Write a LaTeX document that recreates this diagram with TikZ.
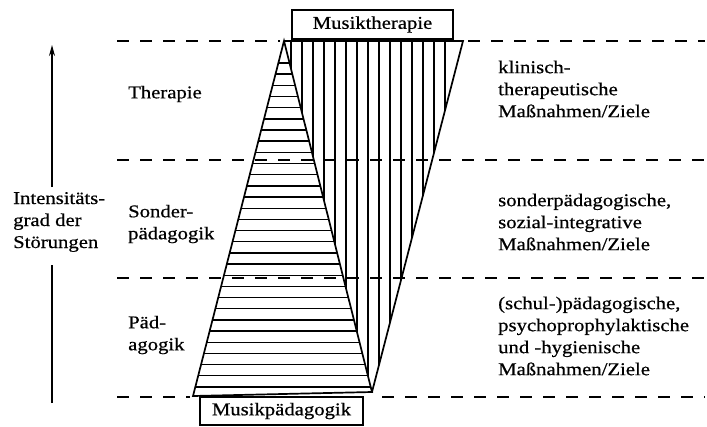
\documentclass[tikz,border=0pt]{standalone}
\usepackage{fontspec}
\setmainfont[FakeStretch=1.15,FakeBold=0.6]{Liberation Serif}
\usetikzlibrary{arrows.meta}
\begin{document}
\begin{tikzpicture}[x=1pt,y=-1pt,
  lbl/.style={font=\fontsize{18}{22}\selectfont, align=left, inner sep=0pt, anchor=west},
  boxlbl/.style={draw, line width=1.5pt, font=\fontsize{18}{22}\selectfont, inner sep=0pt},
  dashline/.style={line width=1.5pt, dash pattern=on 12pt off 11pt},
  hatch/.style={line width=1.4pt},
  edgeline/.style={line width=1.7pt, line join=miter},
  axis/.style={line width=1.4pt}]
\useasboundingbox (0,0) rectangle (707,426);

% dashed level lines
\draw[dashline] (117,41) -- (280,41);
\draw[dashline] (468,41) -- (705,41);
\draw[dashline] (117,160) -- (705,160);
\draw[dashline] (117,278) -- (705,278);
\draw[dashline] (117,397) -- (190,397);
\draw[dashline] (382,397) -- (705,397);

% triangles
\coordinate (A) at (284,41);
\coordinate (B) at (193,396);
\coordinate (C) at (372,392);
\coordinate (D) at (463,41);

\begin{scope}
  \clip (A) -- (B) -- (C) -- cycle;
  \foreach \k in {0,...,29}
    \draw[hatch] (150,{63+11.17*\k}) -- (420,{63+11.17*\k});
\end{scope}
\begin{scope}
  \clip (A) -- (D) -- (C) -- cycle;
  \foreach \k in {0,...,14}
    \draw[hatch] ({291+11*\k},30) -- ({291+11*\k},410);
\end{scope}
\draw[edgeline] (A) -- (B) -- (C) -- cycle;
\draw[edgeline] (A) -- (D) -- (C);

% boxes
\node[boxlbl, fill=white, minimum width=161pt, minimum height=29pt] (mt) at (372.5,24.5) {Musiktherapie};
\node[boxlbl, fill=white, minimum width=163pt, minimum height=28pt] (mp) at (281.5,411) {Musikpädagogik};

% axis
\node[lbl] (int) at (13,222) {Intensitäts-\\grad der\\Störungen};
\coordinate (ab) at (52,403);
\coordinate (ab2) at (52,265);
\coordinate (at2) at (52,187);
\coordinate (at) at (52,45);
\draw[axis] (ab) -- (ab2);
\draw[axis, -{Stealth[length=11pt,width=6pt]}] (at2) -- (at);

% left labels
\node[lbl] (ther) at (128,94) {Therapie};
\node[lbl] (sond) at (128,224) {Sonder-\\pädagogik};
\node[lbl] (paed) at (128,335) {Päd-\\agogik};

% right labels
\node[lbl] (r1) at (498,89) {klinisch-\\therapeutische\\Maßnahmen/Ziele};
\node[lbl] (r2) at (498,222) {sonderpädagogische,\\sozial-integrative\\Maßnahmen/Ziele};
\node[lbl] (r3) at (498,336) {(schul-)pädagogische,\\psychoprophylaktische\\und -hygienische\\Maßnahmen/Ziele};
\end{tikzpicture}
\end{document}
